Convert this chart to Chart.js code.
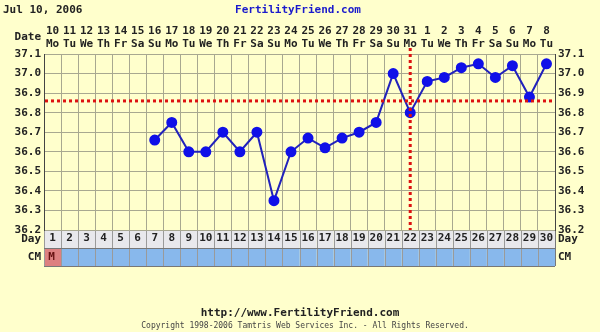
<!DOCTYPE html>
<html>
<head>
<meta charset="utf-8">
<script src="https://cdn.jsdelivr.net/npm/chart.js@4"></script>
<style>
  html, body { margin: 0; padding: 0; background: #ffffcc; }
  #wrap { width: 600px; height: 332px; }
</style>
</head>
<body>
<div id="wrap"><canvas id="bbt" width="600" height="332"></canvas></div>
<script>
// chart data
var cycleDays = ['1','2','3','4','5','6','7','8','9','10','11','12','13','14','15',
  '16','17','18','19','20','21','22','23','24','25','26','27','28','29','30']
var dates = ['10','11','12','13','14','15','16','17','18','19','20','21','22','23','24',
  '25','26','27','28','29','30','31','1','2','3','4','5','6','7','8']
var weekdays = ['Mo','Tu','We','Th','Fr','Sa','Su','Mo','Tu','We','Th','Fr','Sa','Su','Mo',
  'Tu','We','Th','Fr','Sa','Su','Mo','Tu','We','Th','Fr','Sa','Su','Mo','Tu']
var temps = [null, null, null, null, null, null, 36.66, 36.75, 36.60, 36.60, 36.70, 36.60, 36.70, 36.35, 36.60,
  36.67, 36.62, 36.67, 36.70, 36.75, 37.00, 36.80, 36.96, 36.98, 37.03, 37.05, 36.98, 37.04, 36.88, 37.05]
var cmCodes = ['M','','','','','','','','','','','','','','','','','','','','','','','','','','','','','']
var tempTicks = [36.2, 36.3, 36.4, 36.5, 36.6, 36.7, 36.8, 36.9, 37.0, 37.1]
var coverline = 36.86
var ovulationDay = '22'
var chartDate = 'Jul 10, 2006'

var MONO = "'DejaVu Sans Mono', monospace"
var labelFont = { family: MONO, size: 11, weight: 'bold' }
var gridColor = '#a8a890'
var textColor = '#222222'

var rowH = 18

var extras = {
  id: 'extras',
  beforeDraw: function (chart) {
    var ctx = chart.ctx
    var x = chart.scales.x
    var area = chart.chartArea
    ctx.save()
    ctx.fillStyle = '#ffffcc'
    ctx.fillRect(0, 0, chart.width, chart.height)

    var colW = x.getPixelForValue(1) - x.getPixelForValue(0)
    for (var i = 0; i < cycleDays.length; i++) {
      var left = x.getPixelForValue(i) - colW / 2
      // day row
      ctx.fillStyle = '#e8e8ec'
      ctx.fillRect(left, area.bottom, colW, rowH)
      // cm row
      ctx.fillStyle = cmCodes[i] === 'M' ? '#dd8080' : '#88b8ec'
      ctx.fillRect(left, area.bottom + rowH, colW, rowH)
      ctx.strokeStyle = '#9a9a9a'
      ctx.lineWidth = 1
      ctx.beginPath()
      ctx.moveTo(Math.round(left) + 0.5, area.bottom)
      ctx.lineTo(Math.round(left) + 0.5, area.bottom + rowH * 2)
      ctx.stroke()
      if (cmCodes[i]) {
        ctx.fillStyle = '#661111'
        ctx.font = 'bold 11px ' + MONO
        ctx.textAlign = 'center'
        ctx.textBaseline = 'middle'
        ctx.fillText(cmCodes[i], x.getPixelForValue(i) - 1, area.bottom + rowH * 1.5)
      }
    }
    ctx.strokeStyle = '#777777'
    ctx.beginPath()
    ctx.moveTo(area.left, area.bottom + rowH + 0.5)
    ctx.lineTo(area.right, area.bottom + rowH + 0.5)
    ctx.moveTo(area.left, area.bottom + rowH * 2 + 0.5)
    ctx.lineTo(area.right, area.bottom + rowH * 2 + 0.5)
    ctx.moveTo(area.right + 0.5, area.bottom)
    ctx.lineTo(area.right + 0.5, area.bottom + rowH * 2)
    ctx.stroke()
    ctx.restore()
  },
  afterDatasetsDraw: function (chart) {
    var ctx = chart.ctx
    var x = chart.scales.x
    var y = chart.scales.y
    var area = chart.chartArea
    ctx.save()
    ctx.strokeStyle = '#dd1111'
    ctx.lineWidth = 3
    ctx.setLineDash([3, 3])
    var cy = y.getPixelForValue(coverline)
    ctx.beginPath()
    ctx.moveTo(area.left + 1, cy)
    ctx.lineTo(area.right, cy)
    ctx.stroke()
    var ox = x.getPixelForValue(cycleDays.indexOf(ovulationDay))
    ctx.beginPath()
    ctx.moveTo(ox, area.top - 6)
    ctx.lineTo(ox, area.bottom)
    ctx.stroke()
    ctx.restore()
  },
  afterDraw: function (chart) {
    var ctx = chart.ctx
    var area = chart.chartArea
    ctx.save()
    ctx.font = 'bold 11px ' + MONO
    ctx.textBaseline = 'middle'
    ctx.fillStyle = textColor
    ctx.textAlign = 'left'
    ctx.fillText(chartDate, 3, 10)
    ctx.fillStyle = '#1a1acc'
    ctx.textAlign = 'center'
    ctx.fillText('FertilityFriend.com', 298, 10)

    ctx.fillStyle = textColor
    ctx.textAlign = 'right'
    ctx.fillText('Date', 41, 37)
    ctx.fillText('Day', 41, area.bottom + rowH / 2)
    ctx.fillText('CM', 41, area.bottom + rowH * 1.5)
    ctx.textAlign = 'left'
    ctx.fillText('Day', 558, area.bottom + rowH / 2)
    ctx.fillText('CM', 558, area.bottom + rowH * 1.5)

    ctx.textAlign = 'center'
    ctx.fillText('http://www.FertilityFriend.com', 300, 313)
    ctx.font = '8px ' + MONO
    ctx.fillStyle = '#444444'
    ctx.fillText('Copyright 1998-2006 Tamtris Web Services Inc. - All Rights Reserved.', 305, 326)
    ctx.restore()
  }
}

var ctx = document.getElementById('bbt')
var bbtChart = new Chart(ctx, {
  type: 'line',
  data: {
    labels: cycleDays,
    datasets: [{
      label: 'Temperature',
      data: temps,
      borderColor: '#2222bb',
      borderWidth: 2,
      backgroundColor: '#1010e8',
      pointBackgroundColor: '#1010e8',
      pointBorderColor: '#1010e8',
      pointRadius: 4.5,
      spanGaps: true,
      tension: 0
    }]
  },
  options: {
    responsive: false,
    animation: false,
    events: [],
    layout: { padding: 0 },
    plugins: { legend: { display: false }, tooltip: { enabled: false } },
    scales: {
      x: {
        type: 'category',
        position: 'bottom',
        offset: true,
        grid: { offset: true, color: gridColor, drawTicks: false },
        border: { display: false },
        ticks: { font: labelFont, color: textColor, padding: 2, maxRotation: 0, autoSkip: false },
        afterFit: function (scale) { scale.height = 102 }
      },
      xTop: {
        type: 'category',
        position: 'top',
        labels: dates.map(function (d, i) { return [d, weekdays[i]] }),
        offset: true,
        grid: { display: false, drawTicks: false },
        border: { display: false },
        ticks: { font: labelFont, color: textColor, padding: 3, maxRotation: 0, autoSkip: false },
        afterFit: function (scale) { scale.height = 54 }
      },
      y: {
        position: 'left',
        min: 36.2,
        max: 37.1,
        grid: { color: gridColor, drawTicks: false },
        border: { color: '#444444', width: 1 },
        afterBuildTicks: function (scale) { scale.ticks = tempTicks.map(function (v) { return { value: v } }) },
        ticks: { font: labelFont, color: textColor, padding: 3, callback: function (v) { return Number(v).toFixed(1) } },
        afterFit: function (scale) { scale.width = 44 }
      },
      y2: {
        position: 'right',
        min: 36.2,
        max: 37.1,
        grid: { drawOnChartArea: false, drawTicks: false },
        border: { color: '#444444', width: 1 },
        afterBuildTicks: function (scale) { scale.ticks = tempTicks.map(function (v) { return { value: v } }) },
        ticks: { font: labelFont, color: textColor, padding: 3, callback: function (v) { return Number(v).toFixed(1) } },
        afterFit: function (scale) { scale.width = 45 }
      }
    }
  },
  plugins: [extras]
})
</script>
</body>
</html>
